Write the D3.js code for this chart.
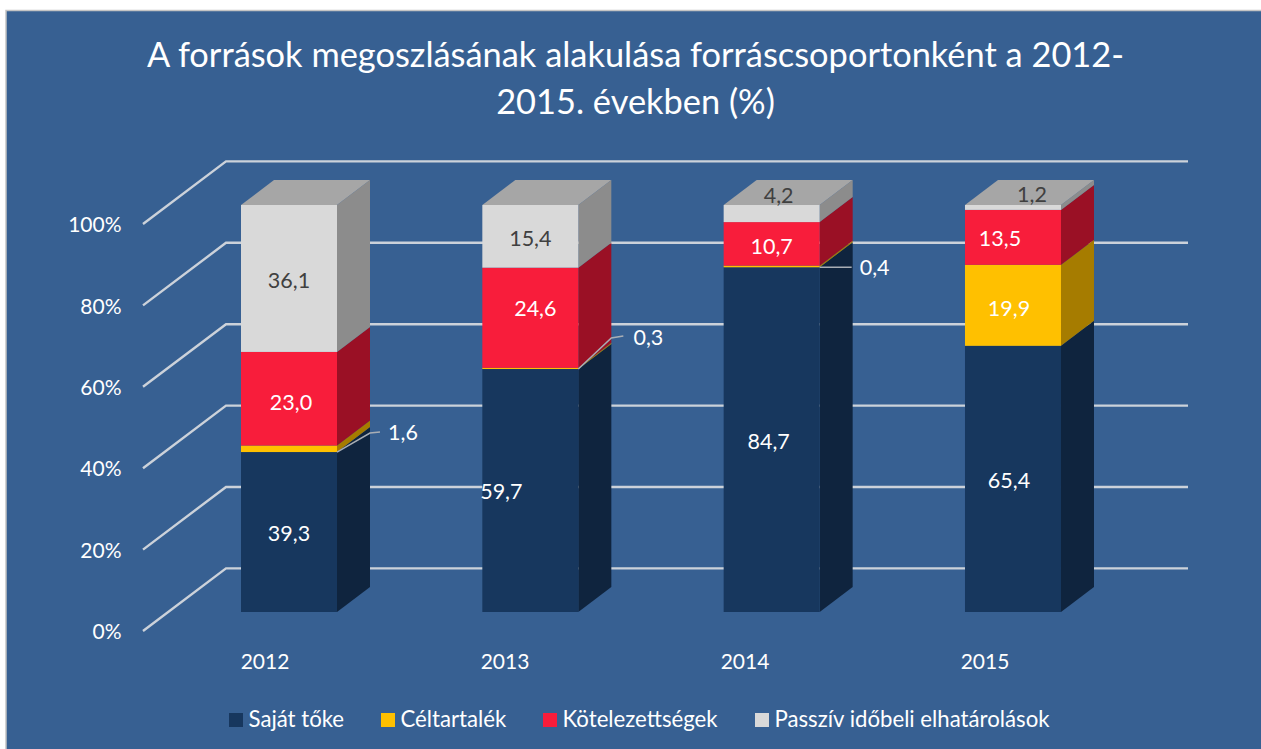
<!DOCTYPE html>
<html><head><meta charset="utf-8">
<script src="https://cdn.jsdelivr.net/npm/d3@7"></script>
<style>html,body{margin:0;padding:0;background:#fff;overflow:hidden}svg{display:block}text{font-family:Lato,"Noto Sans",sans-serif}</style>
</head><body><div id="chart"></div>
<script>
const titleLines = ["A források megoszlásának alakulása forráscsoportonként a 2012-", "2015. években (%)"];
const categories = ["2012", "2013", "2014", "2015"];
const seriesNames = ["Saját tőke", "Céltartalék", "Kötelezettségek", "Passzív időbeli elhatárolások"];
const sajatToke = [39.3, 59.7, 84.7, 65.4];
const celtartalek = [1.6, 0.3, 0.4, 19.9];
const kotelezettsegek = [23.0, 24.6, 10.7, 13.5];
const passziv = [36.1, 15.4, 4.2, 1.2];
const seriesValues = [sajatToke, celtartalek, kotelezettsegek, passziv];
const yTicks = [0, 20, 40, 60, 80, 100];

const frontColors = ["#17375e", "#ffc000", "#f81d3b", "#d9d9d9"];
const sideColors = ["#0f243e", "#a67c00", "#9a1025", "#8c8c8c"];
const labelColors = ["#fff", "#fff", "#fff", "#404040"];
const topColor = "#a6a6a6";
const gridColor = "#ccd2da";

const W = 1261, H = 749;
const svg = d3.select("#chart").append("svg").attr("width", W).attr("height", H);
svg.append("rect").attr("x", 6).attr("y", 10.5).attr("width", W).attr("height", H).attr("fill", "#376092").attr("stroke", "#c4c4c4").attr("stroke-width", 1.5);

svg.selectAll("text.title").data(titleLines).join("text").attr("class", "title")
  .attr("x", 635.5).attr("y", (d, i) => 66.5 + i * 47)
  .attr("text-anchor", "middle").attr("fill", "#fff").attr("font-size", 34.4).text(d => d);

const y = d3.scaleLinear().domain([0, 100]).range([612, 205]);
const x = d3.scaleBand().domain(categories).range([241, 241 + 4 * 241.33]).paddingInner(0).paddingOuter(0).align(0);
const barW = 96;
const depth = {dx: 33, dy: -25};
const wall = {x0: 143, x1: 226, y0: 19, y1: -43.6, right: 1188};

const grid = svg.append("g");
grid.selectAll("path").data(yTicks).join("path")
  .attr("fill", "none").attr("stroke", gridColor).attr("stroke-width", 2.4)
  .attr("d", v => d3.line()([[wall.x0, y(v) + wall.y0], [wall.x1, y(v) + wall.y1], [wall.right, y(v) + wall.y1]]));

// value axis
const yAxis = d3.axisLeft(y).tickValues(yTicks).tickFormat(d => d + "%").tickSize(0).tickPadding(0);
const yG = svg.append("g").attr("transform", `translate(121.5,${wall.y0 + 1})`).call(yAxis);
yG.select(".domain").remove();
yG.selectAll("text").attr("fill", "#fff").attr("font-size", 21).style("font-family", "Lato");

// category axis
const xAxisScale = d3.scalePoint().domain(categories).range([264.5, 984.5]);
const xAxis = d3.axisBottom(xAxisScale).tickSize(0).tickPadding(0);
const xG = svg.append("g").attr("transform", "translate(0,654)").call(xAxis);
xG.select(".domain").remove();
xG.selectAll("text").attr("fill", "#fff").attr("font-size", 21).style("font-family", "Lato");

// stacked bars
const rows = categories.map((c, i) => {
  const o = {cat: c};
  seriesNames.forEach((s, k) => o[s] = seriesValues[k][i]);
  return o;
});
const stacked = d3.stack().keys(seriesNames)(rows);

const bars = svg.append("g");
categories.forEach((c, ci) => {
  const g = bars.append("g");
  const left = x(c), right = left + barW;
  stacked.forEach((layer, k) => {
    const [a, b] = layer[ci];
    g.append("path").attr("fill", sideColors[k])
      .attr("d", d3.line()([[right, y(a)], [right + depth.dx, y(a) + depth.dy], [right + depth.dx, y(b) + depth.dy], [right, y(b)]]) + "Z");
    g.append("rect").attr("x", left).attr("y", y(b)).attr("width", barW).attr("height", y(a) - y(b)).attr("fill", frontColors[k]);
  });
  const t = y(100);
  g.append("path").attr("fill", topColor)
    .attr("d", d3.line()([[left, t], [left + depth.dx, t + depth.dy], [right + depth.dx, t + depth.dy], [right, t]]) + "Z");
});

// label nudges from each segment's centre, per series then category
const nudges = [
  [[0, 1], [-29, 1], [-3, 2], [-4, 2]],
  [[114, -16], [118, -31], [103, 1], [-4, 3]],
  [[2, 4], [5, -9], [0, 3], [-13, 1]],
  [[0, 2], [0, 2], [7, -18], [19, -13]]
];
// leader lines for the thin reserve slices
const leaders = [
  {ci: 0, elbow: [33, -19], end: [43, -20]},
  {ci: 1, elbow: [33, -31], end: [45, -33]},
  {ci: 2, elbow: [0, 0], end: [32, 0]}
];
const leaderG = svg.append("g");
leaders.forEach(l => {
  const c = categories[l.ci], px = x(c) + barW, py = y(stacked[0][l.ci][1]);
  leaderG.append("path").attr("fill", "none").attr("stroke", "#a9aeb5").attr("stroke-width", 1.5)
    .attr("d", d3.line()([[px, py], [px + l.elbow[0], py + l.elbow[1]], [px + l.end[0], py + l.end[1]]]));
});

const fmt = v => v.toFixed(1).replace(".", ",");
const labels = svg.append("g");
stacked.forEach((layer, k) => {
  layer.forEach((seg, ci) => {
    const v = seriesValues[k][ci];
    const n = nudges[k][ci];
    labels.append("text")
      .attr("x", x(categories[ci]) + barW / 2 + n[0])
      .attr("y", y((seg[0] + seg[1]) / 2) + n[1])
      .attr("dy", "0.35em").attr("text-anchor", "middle")
      .attr("fill", labelColors[k]).attr("font-size", 21.5).text(fmt(v));
  });
});

// legend
const legendSwatchX = [229, 381, 543, 755];
const legend = svg.append("g");
seriesNames.forEach((s, k) => {
  legend.append("rect").attr("x", legendSwatchX[k]).attr("y", 713).attr("width", 14).attr("height", 14).attr("fill", frontColors[k]);
  legend.append("text").attr("x", legendSwatchX[k] + 19.5).attr("y", 727).attr("fill", "#fff").attr("font-size", 22.2).text(s);
});
</script></body></html>
